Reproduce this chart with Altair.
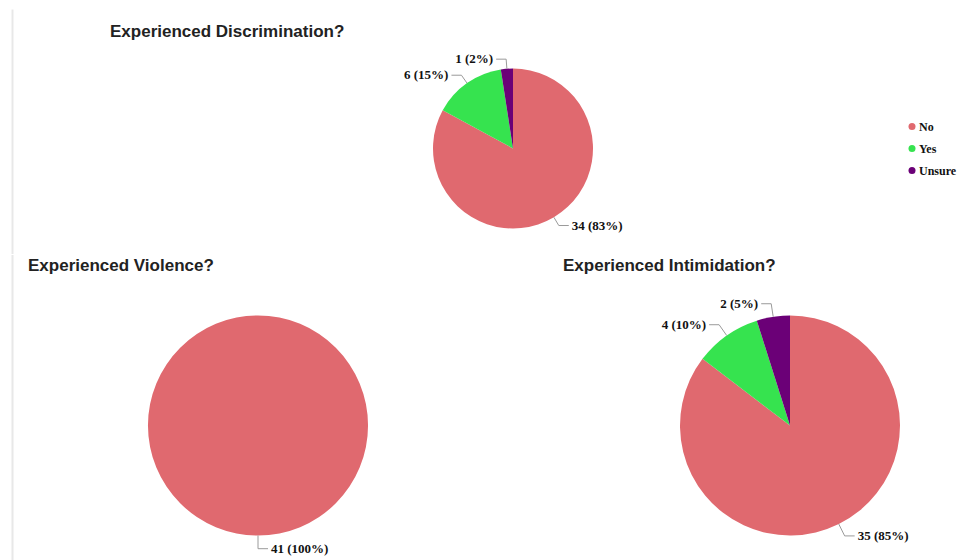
import altair as alt
import pandas as pd

categories = ["No", "Yes", "Unsure"]
colors = ["#E0696F", "#36E34F", "#6B0077"]
discrimination = [34, 6, 1]
violence = [41, 0, 0]
intimidation = [35, 4, 2]

FONT_T = "Liberation Sans"
FONT_L = "Liberation Serif"
R1 = 1.12      # elbow radius factor
HL = 10        # horizontal leader length (px)


def panel(title, values, W, H, cx, cy, R, title_dx, title_offset, line=None):
    df = pd.DataFrame({"cat": categories, "value": values, "idx": list(range(len(categories)))})
    xs = alt.Scale(domain=[-cx / R, (W - cx) / R], nice=False, zero=False)
    ys = alt.Scale(domain=[-cy / R, (H - cy) / R], nice=False, zero=False, reverse=True)
    color = alt.Color("cat:N", scale=alt.Scale(domain=categories, range=colors), title=None,
                      sort=categories)
    base = alt.Chart(df)
    arc = base.mark_arc(radius=R).encode(
        theta=alt.Theta("value:Q", stack=True),
        order=alt.Order("idx:Q"),
        color=color,
        x=alt.X(datum=0, scale=xs, axis=None),
        y=alt.Y(datum=0, scale=ys, axis=None),
    )
    lab = (
        base.transform_joinaggregate(total="sum(value)")
        .transform_window(cum="sum(value)", sort=[alt.SortField("idx")])
        .transform_filter("datum.value > 0")
        .transform_calculate(mid="(datum.cum - datum.value/2)/datum.total*2*PI")
        .transform_calculate(side="sin(datum.mid) >= 0 ? 1 : -1")
        .transform_calculate(x0="sin(datum.mid)")
        .transform_calculate(y0="-cos(datum.mid)")
        .transform_calculate(x1=f"{R1}*sin(datum.mid)")
        .transform_calculate(y1=f"-{R1}*cos(datum.mid)")
        .transform_calculate(x2=f"datum.x1 + datum.side*{HL / R}")
        .transform_calculate(xt=f"datum.x1 + datum.side*{(HL + 3) / R}")
        .transform_calculate(label="datum.value + ' (' + round(datum.value/datum.total*100) + '%)'")
    )
    X = lambda f: alt.X(f, type="quantitative", scale=xs, axis=None)
    Y = lambda f: alt.Y(f, type="quantitative", scale=ys, axis=None)
    rule1 = lab.mark_rule(color="#9a9a9a", strokeWidth=1).encode(
        x=X("x0"), y=Y("y0"), x2="x1:Q", y2="y1:Q")
    rule2 = lab.mark_rule(color="#9a9a9a", strokeWidth=1).encode(
        x=X("x1"), y=Y("y1"), x2="x2:Q", y2="y1:Q")
    tstyle = dict(baseline="middle", font=FONT_L, fontWeight="bold", fontSize=13, color="#111111")
    textR = lab.transform_filter("datum.side > 0").mark_text(align="left", **tstyle).encode(
        x=X("xt"), y=Y("y1"), text="label:N")
    textL = lab.transform_filter("datum.side < 0").mark_text(align="right", **tstyle).encode(
        x=X("xt"), y=Y("y1"), text="label:N")
    layers = [arc, rule1, rule2, textR, textL]
    if line is not None:
        border = alt.Chart(pd.DataFrame({"a": [0]})).mark_rule(color="#e8e8e8", strokeWidth=2).encode(
            x=alt.value(4.5), y=alt.value(line[0]), y2=alt.value(line[1]))
        layers.insert(0, border)
    return alt.layer(*layers).properties(
        width=W, height=H,
        title=alt.TitleParams(title, anchor="start", dx=title_dx, fontSize=17, font=FONT_T,
                              fontWeight="bold", color="#222222", offset=title_offset),
    )


H1, SP = 205, 29
H2 = 270
top = panel("Experienced Discrimination?", discrimination, 950, H1, 505, 99.5, 80, 102, -32,
            line=(-39.5, H1))
left = panel("Experienced Violence?", violence, 540, H2, 250, 142.5, 110, 20, -20.5,
             line=(-28, H2 + 8))
right = panel("Experienced Intimidation?", intimidation, 395, H2, 227, 142.5, 110, 0, 8.5)

chart = (
    alt.vconcat(top, alt.hconcat(left, right, spacing=15, bounds="flush"),
                spacing=SP, bounds="flush")
    .properties(padding={"left": 0, "top": 0, "right": 0, "bottom": 0})
    .configure_view(strokeWidth=0)
    .configure_legend(
        orient="none", legendX=898, legendY=71.5, symbolType="circle", symbolSize=49,
        labelFont=FONT_L, labelFontWeight="bold", labelFontSize=12, labelColor="#111111",
        padding=0, labelOffset=1, rowPadding=10, symbolStrokeWidth=0,
    )
)

chart.save("out.html", embed_options={"renderer": "svg", "actions": False})
